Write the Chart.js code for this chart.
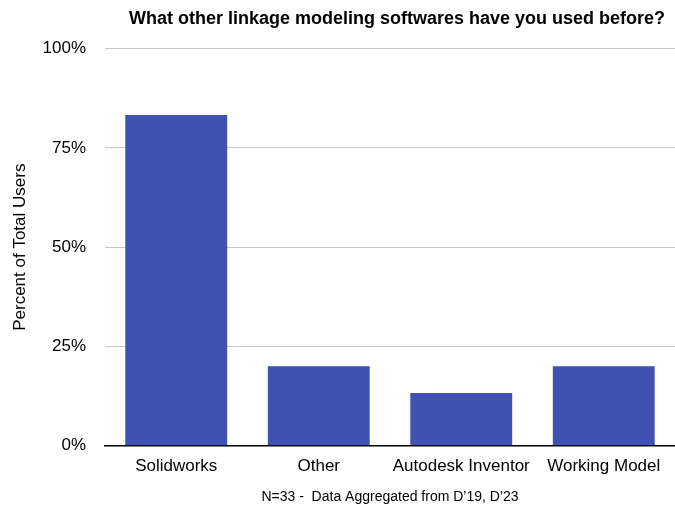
<!DOCTYPE html>
<html>
<head>
<meta charset="utf-8">
<script src="https://cdn.jsdelivr.net/npm/chart.js@4/dist/chart.umd.min.js"></script>
<style>
  body { margin: 0; background: #fff; }
  #wrap { width: 675px; height: 510px; }
</style>
</head>
<body>
<div id="wrap"><canvas id="myChart" width="675" height="510"></canvas></div>
<script>
const categories = ['Solidworks', 'Other', 'Autodesk Inventor', 'Working Model'];
const percentUsers = [83.3, 20, 13.3, 20]; // percent of total users
const yTicks = [0, 25, 50, 75, 100];

const FONT = "'Liberation Sans', Arial, Helvetica, sans-serif";

const ctx = document.getElementById('myChart').getContext('2d');
const myChart = new Chart(ctx, {
    type: 'bar',
    data: {
        labels: categories,
        datasets: [{
            label: 'Percent of Total Users',
            data: percentUsers,
            backgroundColor: '#3f51b1',
            borderWidth: 0,
            barPercentage: 0.715,
            categoryPercentage: 1
        }]
    },
    options: {
        responsive: false,
        animation: false,
        layout: { padding: { left: 6, right: 0, top: 0, bottom: 4 } },
        plugins: {
            legend: { display: false },
            tooltip: { enabled: false },
            title: {
                display: true,
                text: 'What other linkage modeling softwares have you used before?\u00a0\u00a0',
                align: 'end',
                color: '#000',
                font: { family: FONT, size: 18, weight: 'bold' },
                padding: { top: 8, bottom: 19 }
            }
        },
        scales: {
            x: {
                grid: { display: false },
                border: { display: true, color: '#000', width: 1.5 },
                ticks: { color: '#000', font: { family: FONT, size: 17 }, padding: 2, maxRotation: 0 },
                title: {
                    display: true,
                    text: "N=33 -  Data Aggregated from D\u201919, D\u201923",
                    color: '#000',
                    font: { family: FONT, size: 14 },
                    padding: { top: 11, bottom: 0 }
                }
            },
            y: {
                min: 0,
                max: 100,
                afterBuildTicks: (axis) => { axis.ticks = yTicks.map(v => ({ value: v })); },
                afterFit: (axis) => { axis.width = 99; },
                grid: { color: '#c8c8c8', lineWidth: 1, drawTicks: false },
                border: { display: false },
                ticks: {
                    color: '#000',
                    font: { family: FONT, size: 17 },
                    padding: 19,
                    callback: (v) => v + '%'
                },
                title: {
                    display: true,
                    text: 'Percent of Total Users',
                    color: '#000',
                    font: { family: FONT, size: 17 },
                    padding: { top: 4, bottom: 0 }
                }
            }
        }
    }
});
</script>
</body>
</html>
